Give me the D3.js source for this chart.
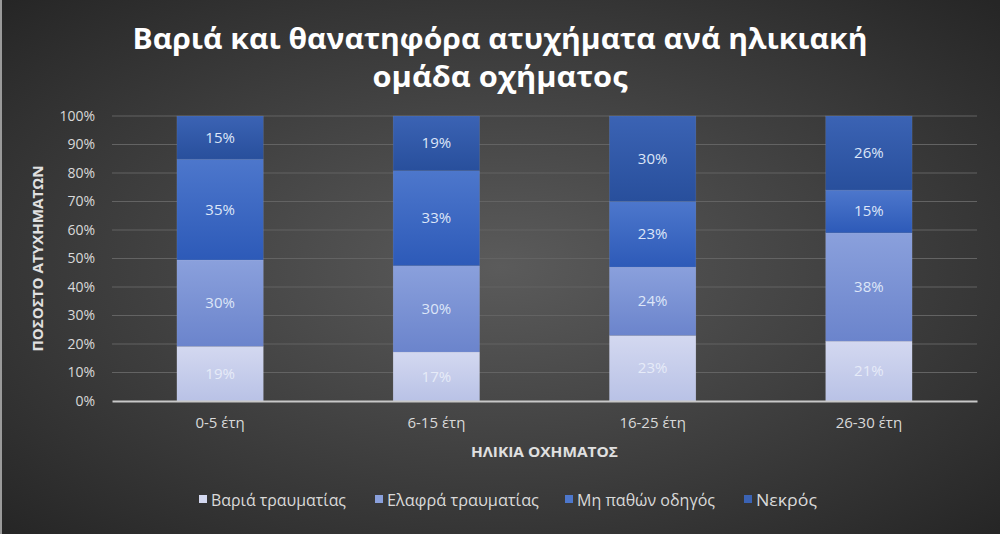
<!DOCTYPE html>
<html><head><meta charset="utf-8">
<script src="https://cdn.jsdelivr.net/npm/d3@7"></script>
<style>html,body{margin:0;padding:0;background:#333;}svg{display:block;}</style>
</head><body><svg id="c" width="1000" height="534"></svg>
<script>
const categories = ["0-5 έτη", "6-15 έτη", "16-25 έτη", "26-30 έτη"];
const seriesNames = ["Βαριά τραυματίας", "Ελαφρά τραυματίας", "Μη παθών οδηγός", "Νεκρός"];
const variaValues = [19, 17, 23, 21];
const elafraValues = [30, 30, 24, 38];
const mipathonValues = [35, 33, 23, 15];
const nekrosValues = [15, 19, 30, 26];
const yTicks = [0, 0.1, 0.2, 0.3, 0.4, 0.5, 0.6, 0.7, 0.8, 0.9, 1];
const titleLines = ["Βαριά και θανατηφόρα ατυχήματα ανά ηλικιακή", "ομάδα οχήματος"];
const yTitle = "ΠΟΣΟΣΤΟ ΑΤΥΧΗΜΑΤΩΝ";
const xTitle = "ΗΛΙΚΙΑ ΟΧΗΜΑΤΟΣ";

const colorsTop = ["#d3d8f0", "#8aa0dc", "#4d77cc", "#3b63b4"];
const colorsBot = ["#b9c2e6", "#6b84cc", "#2d5ab8", "#284f9c"];

(function(){
const svg = d3.select("#c");
const W = 1000, H = 534;
const defs = svg.append("defs");
const bg = defs.append("radialGradient").attr("id","bg").attr("cx","50%").attr("cy","50%").attr("r","70%");
bg.append("stop").attr("offset","0%").attr("stop-color","#5b5b5b");
bg.append("stop").attr("offset","100%").attr("stop-color","#262626");
svg.append("rect").attr("width",W).attr("height",H).attr("fill","url(#bg)");
svg.append("rect").attr("x",0).attr("y",0).attr("width",2).attr("height",H).attr("fill","#9a9a9a");

seriesNames.forEach((s,i)=>{
  const g = defs.append("linearGradient").attr("id","g"+i).attr("x1",0).attr("y1",0).attr("x2",0).attr("y2",1);
  g.append("stop").attr("offset","0%").attr("stop-color",colorsTop[i]);
  g.append("stop").attr("offset","100%").attr("stop-color",colorsBot[i]);
});

const font = "'Open Sans', 'Noto Sans', sans-serif";

svg.append("text").attr("x",500).attr("y",49).attr("text-anchor","middle")
  .attr("font-family",font).attr("font-weight","bold").attr("font-size",28).attr("fill","#ffffff")
  .attr("textLength",735).attr("lengthAdjust","spacingAndGlyphs").text(titleLines[0]);
svg.append("text").attr("x",500).attr("y",87).attr("text-anchor","middle")
  .attr("font-family",font).attr("font-weight","bold").attr("font-size",28).attr("fill","#ffffff")
  .attr("textLength",255).attr("lengthAdjust","spacingAndGlyphs").text(titleLines[1]);

const pLeft = 112, pRight = 977, pTop = 116, pBottom = 401;
const x = d3.scaleBand().domain(categories).range([pLeft,pRight]).paddingInner(0.6).paddingOuter(0.3);
const y = d3.scaleLinear().domain([0,1]).range([pBottom,pTop]);

const rows = categories.map((c,i)=>({cat:c, s0:variaValues[i], s1:elafraValues[i], s2:mipathonValues[i], s3:nekrosValues[i]}));
const keys = ["s0","s1","s2","s3"];
const stacked = d3.stack().keys(keys).offset(d3.stackOffsetExpand)(rows);

svg.append("g").selectAll("line").data(yTicks.slice(1)).join("line")
  .attr("x1",pLeft).attr("x2",pRight).attr("y1",d=>y(d)).attr("y2",d=>y(d))
  .attr("stroke","#636363").attr("stroke-width",1);

const yAxis = d3.axisLeft(y).tickValues(yTicks).tickFormat(d3.format(".0%")).tickSize(0).tickPadding(0);
const ya = svg.append("g").attr("transform",`translate(${95},0)`).call(yAxis);
ya.select(".domain").remove();
ya.selectAll("text").attr("font-family",font).attr("font-size",14).attr("fill","#d9d9d9");

stacked.forEach((layer,i)=>{
  svg.append("g").selectAll("rect").data(layer).join("rect")
    .attr("x",d=>x(d.data.cat)).attr("width",x.bandwidth())
    .attr("y",d=>y(d[1])).attr("height",d=>y(d[0])-y(d[1]))
    .attr("fill",`url(#g${i})`).attr("stroke","rgba(255,255,255,0.12)").attr("stroke-width",0.6);
  svg.append("g").selectAll("text").data(layer).join("text")
    .attr("x",d=>x(d.data.cat)+x.bandwidth()/2).attr("y",d=>(y(d[0])+y(d[1]))/2+5)
    .attr("text-anchor","middle").attr("font-family",font).attr("font-size",15)
    .attr("fill", i===0 ? "#e6ebf8" : "#dde6f8")
    .text(d=>d.data[keys[i]]+"%");
});

const xAxis = d3.axisBottom(x).tickSize(0).tickPadding(16);
const xa = svg.append("g").attr("transform",`translate(0,${pBottom})`).call(xAxis);
xa.select(".domain").attr("stroke","#c8c8c8").attr("stroke-width",2);
xa.selectAll("text").attr("font-family",font).attr("font-size",15).attr("fill","#d9d9d9");

svg.append("text").attr("transform",`translate(43,${(pTop+pBottom)/2}) rotate(-90)`).attr("text-anchor","middle")
  .attr("font-family",font).attr("font-weight","bold").attr("font-size",14).attr("fill","#e0e0e0")
  .attr("textLength",186).attr("lengthAdjust","spacingAndGlyphs").text(yTitle);
svg.append("text").attr("x",(pLeft+pRight)/2).attr("y",457).attr("text-anchor","middle")
  .attr("font-family",font).attr("font-weight","bold").attr("font-size",14).attr("fill","#e0e0e0")
  .attr("textLength",147).attr("lengthAdjust","spacingAndGlyphs").text(xTitle);

const legendX = [199, 375, 565, 744];
const legendW = [135, 152, 138, 61];
const lg = svg.append("g").selectAll("g").data(seriesNames).join("g")
  .attr("transform",(d,i)=>`translate(${legendX[i]},506)`);
lg.append("rect").attr("x",0).attr("y",-11).attr("width",8).attr("height",8).attr("fill",(d,i)=>colorsTop[i]);
lg.append("text").attr("x",12).attr("y",0).attr("font-family",font).attr("font-size",15.5).attr("fill","#d9d9d9")
  .attr("textLength",(d,i)=>legendW[i]).attr("lengthAdjust","spacingAndGlyphs").text(d=>d);
})();
</script></body></html>
